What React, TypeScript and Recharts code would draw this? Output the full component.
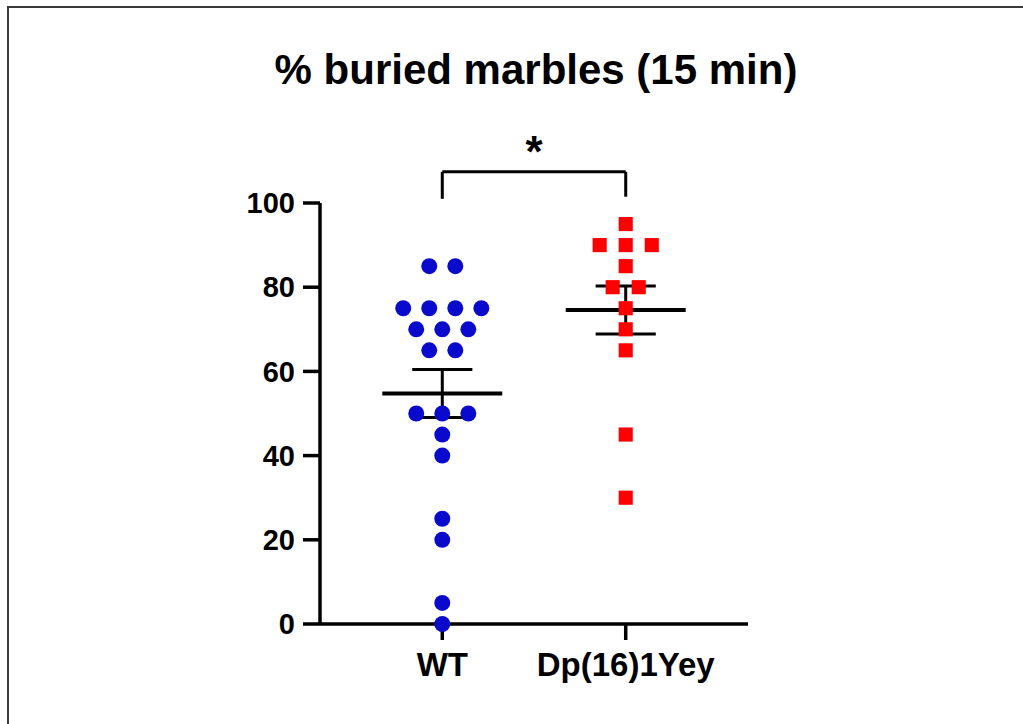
import { ScatterChart, Scatter, XAxis, YAxis, ZAxis, ReferenceLine } from "recharts";

const groups = ["WT", "Dp(16)1Yey"];
const wtValues = [85, 85, 75, 75, 75, 75, 70, 70, 70, 65, 65, 50, 50, 50, 45, 40, 25, 20, 5, 0];
const dpValues = [95, 90, 90, 90, 85, 80, 80, 75, 70, 65, 45, 30];
const yTicks = [0, 20, 40, 60, 80, 100];
const bracketLow = [101, 101.5];
const bracketTop = 107.4;
const significance = "*";

const SPREAD = 0.142;
const MEAN_HALF = 0.327;
const CAP_HALF = 0.164;
const FONT = "'Liberation Sans', Arial, sans-serif";

// beeswarm: equal values are spread side by side around the group centre
function swarm(values: number[], center: number) {
  const counts = new Map<number, number>();
  values.forEach((v) => counts.set(v, (counts.get(v) ?? 0) + 1));
  const seen = new Map<number, number>();
  return values.map((v) => {
    const n = counts.get(v) ?? 1;
    const i = seen.get(v) ?? 0;
    seen.set(v, i + 1);
    return { x: center + (i - (n - 1) / 2) * SPREAD, y: v, z: 1 };
  });
}

function meanSem(values: number[]) {
  const n = values.length;
  const mean = values.reduce((a, b) => a + b, 0) / n;
  const ss = values.reduce((a, b) => a + (b - mean) ** 2, 0);
  const sem = Math.sqrt(ss / (n - 1)) / Math.sqrt(n);
  return { mean, sem };
}

const wtData = swarm(wtValues, 1);
const dpData = swarm(dpValues, 2);
const stats = [meanSem(wtValues), meanSem(dpValues)];

const errorLines = stats.flatMap((s, i) => {
  const c = i + 1;
  return [
    { key: `m${i}`, w: 4, seg: [{ x: c - MEAN_HALF, y: s.mean }, { x: c + MEAN_HALF, y: s.mean }] },
    { key: `u${i}`, w: 3, seg: [{ x: c - CAP_HALF, y: s.mean + s.sem }, { x: c + CAP_HALF, y: s.mean + s.sem }] },
    { key: `l${i}`, w: 3, seg: [{ x: c - CAP_HALF, y: s.mean - s.sem }, { x: c + CAP_HALF, y: s.mean - s.sem }] },
    { key: `v${i}`, w: 3, seg: [{ x: c, y: s.mean - s.sem }, { x: c, y: s.mean + s.sem }] },
  ];
});

export default function App() {
  return (
    <div style={{ position: "absolute", left: 0, top: 0, width: 1023, height: 724, background: "#fff", overflow: "hidden" }}>
      <style>{`body{margin:0}`}</style>
      <div
        style={{
          position: "absolute",
          left: 7,
          top: 6,
          right: 0,
          bottom: 0,
          borderTop: "2px solid #3a3a3a",
          borderLeft: "2px solid #3a3a3a",
        }}
      />
      <div
        style={{
          position: "absolute",
          left: 236,
          top: 49,
          width: 600,
          textAlign: "center",
          fontFamily: FONT,
          fontWeight: "bold",
          fontSize: 42,
          lineHeight: "42px",
          color: "#000",
        }}
      >
        % buried marbles (15 min)
      </div>
      <div style={{ position: "absolute", left: 0, top: 0 }}>
        <ScatterChart width={1023} height={724} margin={{ top: 203, right: 275, bottom: 40, left: 240 }}>
          <XAxis
            type="number"
            dataKey="x"
            domain={[1 / 3, 8 / 3]}
            ticks={[1, 2]}
            tickFormatter={(v) => groups[Math.round(Number(v)) - 1] ?? ""}
            height={60}
            tickSize={16}
            tickMargin={13}
            axisLine={{ stroke: "#000", strokeWidth: 3.5 }}
            tickLine={{ stroke: "#000", strokeWidth: 3.5 }}
            tick={{ fill: "#000", fontSize: 33, fontWeight: "bold", fontFamily: FONT }}
          />
          <YAxis
            type="number"
            dataKey="y"
            domain={[0, 100]}
            ticks={yTicks}
            width={80}
            tickSize={17}
            tickMargin={8}
            axisLine={{ stroke: "#000", strokeWidth: 3.5 }}
            tickLine={{ stroke: "#000", strokeWidth: 3.5 }}
            tick={{ fill: "#000", fontSize: 29, fontWeight: "bold", fontFamily: FONT }}
          />
          <ZAxis type="number" dataKey="z" range={[200, 200]} />
          {errorLines.map((l) => (
            <ReferenceLine key={l.key} segment={l.seg} stroke="#000" strokeWidth={l.w} ifOverflow="visible" />
          ))}
          <ReferenceLine
            segment={[{ x: 1, y: bracketLow[0] }, { x: 1, y: bracketTop }]}
            stroke="#000"
            strokeWidth={3}
            ifOverflow="visible"
          />
          <ReferenceLine
            segment={[{ x: 1, y: bracketTop }, { x: 2, y: bracketTop }]}
            stroke="#000"
            strokeWidth={3}
            ifOverflow="visible"
            label={{ value: significance, position: "top", offset: 5, fill: "#000", fontSize: 44, fontWeight: "bold", fontFamily: FONT }}
          />
          <ReferenceLine
            segment={[{ x: 2, y: bracketTop }, { x: 2, y: bracketLow[1] }]}
            stroke="#000"
            strokeWidth={3}
            ifOverflow="visible"
          />
          <Scatter data={wtData} fill="#0a0acd" shape="circle" isAnimationActive={false} />
          <Scatter data={dpData} fill="#ff0000" shape="square" isAnimationActive={false} />
        </ScatterChart>
      </div>
    </div>
  );
}
